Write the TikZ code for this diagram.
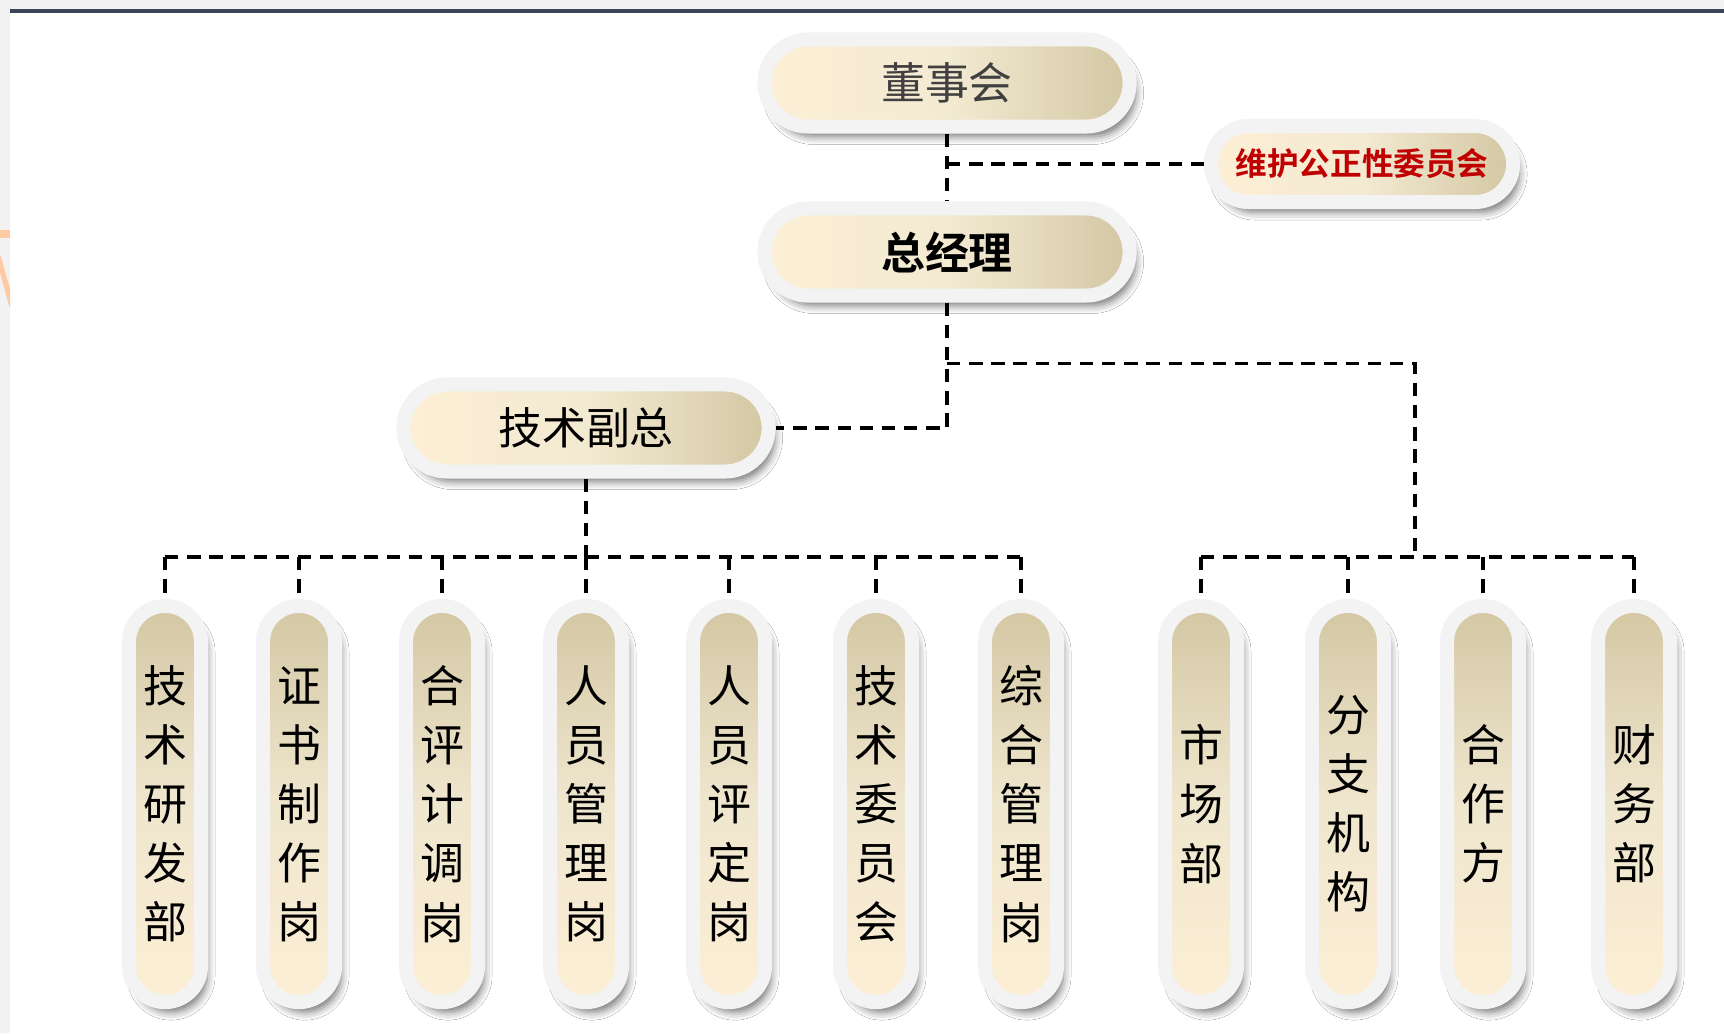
\documentclass[tikz,border=0pt]{standalone}
\usepackage{fontspec}
\newfontfamily\cjk{Noto Sans CJK SC}[BoldFont={Noto Sans CJK SC Bold}]
\usetikzlibrary{shadows.blur}
\definecolor{cream}{HTML}{FCEFD5}
\definecolor{khaki}{HTML}{D3C7A3}
\definecolor{midtan}{HTML}{EFE6CE}
\definecolor{lighttan}{HTML}{F3EAD2}
\definecolor{rim}{HTML}{F3F3F3}
\definecolor{topbar}{HTML}{3B4658}
\definecolor{edge}{HTML}{F2F2F2}
\definecolor{deepred}{HTML}{C00000}
\definecolor{peach}{HTML}{FFC9A3}
\definecolor{ink}{HTML}{404040}
\tikzstyle{pill}=[draw=rim,line width=0.14cm,
  blur shadow={shadow xshift=0.06cm,shadow yshift=-0.1cm,
    shadow blur radius=0.08cm,shadow opacity=55}]
\tikzstyle{hpill}=[pill,minimum width=3.65cm,minimum height=0.87cm,
  rounded corners=0.435cm,left color=cream,right color=khaki,middle color=lighttan,
  font=\cjk\fontsize{12.5pt}{15pt}\selectfont]
\tikzstyle{vpill}=[pill,minimum width=0.72cm,minimum height=3.96cm,
  rounded corners=0.36cm,top color=khaki,bottom color=cream,middle color=midtan,
  align=center,font=\cjk\fontsize{12.5pt}{16.8pt}\selectfont]
\tikzstyle{link}=[line width=1.1pt,dash pattern=on 3.8pt off 2.5pt]

\begin{document}
\begin{tikzpicture}[x=0.01cm,y=-0.01cm]
  \useasboundingbox (0,0) rectangle (1724,1033);
  \fill[white] (0,0) rectangle (1724,1033);
  \fill[edge] (0,0) rectangle (1724,9) (0,0) rectangle (10,1033);
  \fill[topbar] (10,9) rectangle (1724,13);
  \begin{scope}
    \clip (0,0) rectangle (10,1033);
    \fill[peach] (0,230) rectangle (10,238);
    \draw[peach,line width=1.5pt] (-2,256) -- (12,306);
  \end{scope}
  % top levels
  \node[hpill,text=ink] (dsh) at (947,83) {董事会};
  \node[hpill,font=\cjk\bfseries\fontsize{12.5pt}{15pt}\selectfont] (zjl) at (947,252) {总经理};
  \node[hpill,minimum width=3.02cm,minimum height=0.76cm,rounded corners=0.38cm,
    text=deepred,font=\cjk\bfseries\fontsize{9pt}{11pt}\selectfont] (whw) at (1362,164) {维护公正性委员会};
  \node[hpill] (jsfz) at (586,428) {技术副总};
  % departments
  \node[vpill] (l1) at (165,804) {技\\术\\研\\发\\部};
  \node[vpill] (l2) at (299,804) {证\\书\\制\\作\\岗};
  \node[vpill] (l3) at (442,804) {合\\评\\计\\调\\岗};
  \node[vpill] (l4) at (586,804) {人\\员\\管\\理\\岗};
  \node[vpill] (l5) at (729,804) {人\\员\\评\\定\\岗};
  \node[vpill] (l6) at (876,804) {技\\术\\委\\员\\会};
  \node[vpill] (l7) at (1021,804) {综\\合\\管\\理\\岗};
  \node[vpill] (r1) at (1201,804) {市\\场\\部};
  \node[vpill] (r2) at (1348,804) {分\\支\\机\\构};
  \node[vpill] (r3) at (1483,804) {合\\作\\方};
  \node[vpill] (r4) at (1634,804) {财\\务\\部};
  % links
  \draw[link] (dsh.south) -- (zjl.north);
  \draw[link] (dsh.south |- whw.west) -- (whw.west);
  \draw[link] (zjl.south) |- (jsfz.east);
  \path (zjl.south) ++(0,61) coordinate (zfork);
  \coordinate (rbus) at (1415,557);
  \coordinate (lbus) at (jsfz.south |- rbus);
  \draw[link] (zfork) -| (rbus);
  \draw[link] (jsfz.south) -- (lbus);
  \draw[link] (l1.north |- lbus) -- (l7.north |- lbus);
  \draw[link] (r1.north |- rbus) -- (r4.north |- rbus);
  \foreach \n in {l1,l2,l3,l4,l5,l6,l7,r1,r2,r3,r4}
    \draw[link] (\n.north |- lbus) -- (\n.north);
\end{tikzpicture}
\end{document}
